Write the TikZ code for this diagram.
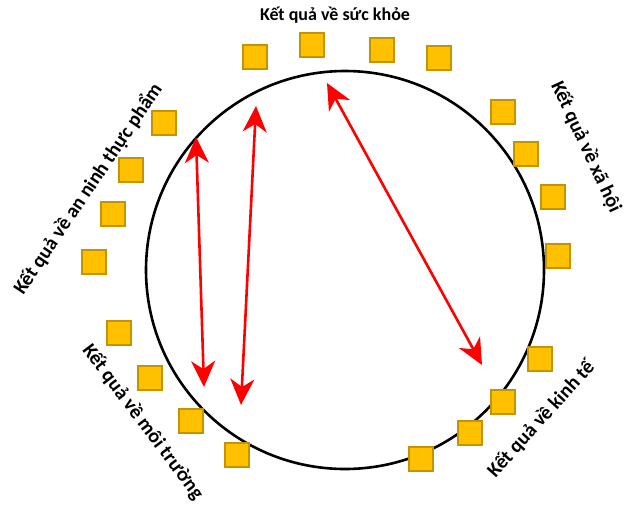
\documentclass[tikz,border=0pt]{standalone}
\usepackage{fontspec}
\setmainfont{Carlito}
\usetikzlibrary{arrows.meta}
\definecolor{boxfill}{HTML}{FFC000}
\definecolor{boxline}{HTML}{C29400}
\definecolor{arrowred}{HTML}{FF0000}
\begin{document}
\begin{tikzpicture}[x=1pt,y=-1pt,
  item/.style={draw=boxline,fill=boxfill,line width=1.4pt,minimum size=24pt,inner sep=0pt},
  label/.style={font=\fontsize{18}{20}\selectfont\bfseries,inner sep=0pt},
  sidelabel/.style={font=\fontsize{20}{22}\selectfont\bfseries,inner sep=0pt},
  link/.style={draw=arrowred,line width=2.6pt,
    {Stealth[length=26pt,width=24pt,inset=8pt]}-{Stealth[length=26pt,width=24pt,inset=8pt]}}]
\useasboundingbox (0,0) rectangle (626,507);

% outer ring
\node[draw,line width=2.6pt,circle,minimum size=398pt,inner sep=0pt] (ring) at (345,270) {};

% top group
\node[item] (t1) at (255,57) {};
\node[item] (t2) at (312,45) {};
\node[item] (t3) at (382,50) {};
\node[item] (t4) at (439,58) {};
% right group
\node[item] (r1) at (503,112) {};
\node[item] (r2) at (526,154) {};
\node[item] (r3) at (553,197) {};
\node[item] (r4) at (558,256) {};
% left group
\node[item] (l1) at (164,123) {};
\node[item] (l2) at (131,170) {};
\node[item] (l3) at (113,214) {};
\node[item] (l4) at (94,262) {};
% lower left group
\node[item] (b1) at (119,333) {};
\node[item] (b2) at (150,378) {};
\node[item] (b3) at (191,421) {};
\node[item] (b4) at (237,455) {};
% lower right group
\node[item] (k1) at (540,359) {};
\node[item] (k2) at (503,402) {};
\node[item] (k3) at (470,433) {};
\node[item] (k4) at (421,459) {};

% group titles
\node[label] (health) at (335,15) {Kết quả về sức khỏe};
\node[sidelabel,rotate=-65] (social) at (586,147) {Kết quả về xã hội};
\node[sidelabel,rotate=56] (food) at (88,189) {Kết quả về an ninh thực phẩm};
\node[sidelabel,rotate=-53] (env) at (143,422) {Kết quả về môi trường};
\node[sidelabel,rotate=48] (econ) at (541,419) {Kết quả về kinh tế};

% arrow ends
\coordinate (a1) at (196,137);
\coordinate (a2) at (204,387);
\coordinate (c1) at (256,106);
\coordinate (c2) at (241,405);
\coordinate (e1) at (327,83);
\coordinate (e2) at (482,365);

\draw[link] (a1) -- (a2);
\draw[link] (c1) -- (c2);
\draw[link] (e1) -- (e2);
\end{tikzpicture}
\end{document}
